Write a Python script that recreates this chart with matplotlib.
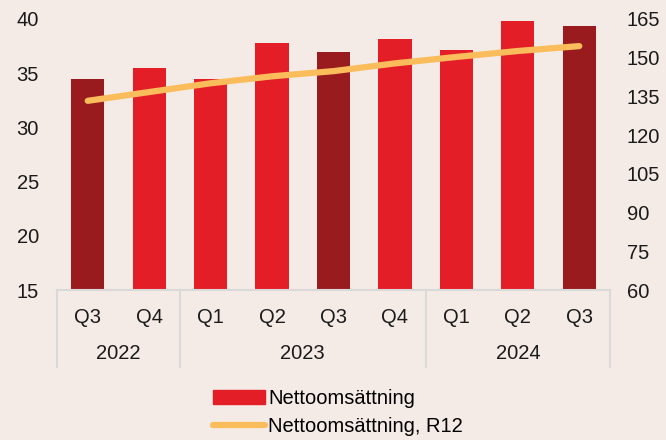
import matplotlib.pyplot as plt
from matplotlib.lines import Line2D
from matplotlib.patches import Patch
import matplotlib.transforms as mtransforms

plt.rcParams['font.family'] = ['Liberation Sans', 'DejaVu Sans']

# data
quarters = ["Q3", "Q4", "Q1", "Q2", "Q3", "Q4", "Q1", "Q2", "Q3"]
years = ["2022", "2023", "2024"]
year_counts = [2, 4, 3]
sales = [34.5, 35.5, 34.5, 37.75, 36.95, 38.2, 37.1, 39.8, 39.35]
sales_r12 = [133.3, 136.7, 140.1, 142.8, 144.8, 147.8, 150.3, 152.6, 154.5]
highlight = [True, False, False, False, True, False, False, False, True]

bg = "#f5ebe6"
red = "#e31e26"
dark_red = "#991b1e"
yellow = "#fbbd5c"
grid_col = "#d9d9d9"
fs = 14.5

fig = plt.figure(figsize=(6.66, 4.40), dpi=100, facecolor=bg)
ax = fig.add_axes([57/666, 1 - 290/440, 553/666, 271/440])
ax.set_facecolor(bg)

x = list(range(len(quarters)))
colors = [dark_red if h else red for h in highlight]
ax.bar(x, sales, width=0.54, color=colors, zorder=2)
ax.set_ylim(15, 40)
ax.set_xlim(-0.5, len(quarters) - 0.5)
ax.set_yticks(range(15, 41, 5))

ax2 = ax.twinx()
ax2.plot(x, sales_r12, color=yellow, lw=4.5, solid_capstyle="round", zorder=3)
ax2.set_ylim(60, 165)
ax2.set_yticks(range(60, 166, 15))

for a in (ax, ax2):
    for s in a.spines.values():
        s.set_visible(False)
    a.tick_params(length=0, labelsize=fs, colors="#1a1a1a")
ax.tick_params(axis="y", pad=13)
ax2.tick_params(axis="y", pad=12)

ax.set_xticks(x)
ax.set_xticklabels(quarters)
ax.tick_params(axis="x", pad=13)

# category axis lines
trans = mtransforms.blended_transform_factory(ax.transData, ax.transAxes)
ax.plot([-0.5, len(quarters) - 0.5], [0, 0], color=grid_col, lw=1.5,
        transform=trans, clip_on=False)
start = -0.5
bounds = [start]
for name, n in zip(years, year_counts):
    ax.text(start + n / 2, -0.235, name, transform=trans, ha="center",
            va="center", fontsize=fs, color="#1a1a1a")
    start += n
    bounds.append(start)
for b in bounds:
    ax.plot([b, b], [0, -0.285], color=grid_col, lw=1.5,
            transform=trans, clip_on=False)

handles = [Patch(color=red, label="Nettoomsättning"),
           Line2D([], [], color=yellow, lw=4.5, solid_capstyle="round",
                  label="Nettoomsättning, R12")]
fig.legend(handles=handles, loc="upper left", bbox_to_anchor=(203/666, 1 - 379/440),
           frameon=False, fontsize=fs, handlelength=2.6, handletextpad=0.15,
           labelspacing=0.45, borderpad=0)

fig.savefig("out.png", dpi=100, facecolor=bg)
